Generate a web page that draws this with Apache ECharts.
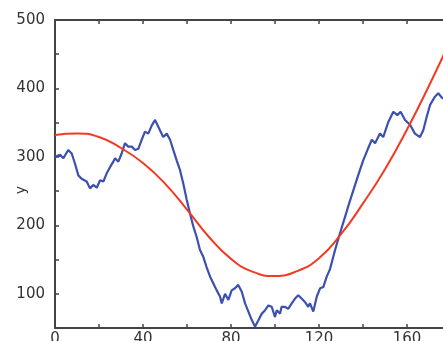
<!DOCTYPE html>
<html>
<head>
<meta charset="utf-8">
<script src="https://cdn.jsdelivr.net/npm/echarts@6/dist/echarts.min.js"></script>
<style>
html,body{margin:0;padding:0;background:#fff;}
#c{width:443px;height:341px;}
</style>
</head>
<body>
<div id="c"></div>
<script>
// Blue noisy series (x, y)
const blueX = [0,2.3,3.8,6,7.6,9.1,10.6,12.1,14.4,15.9,17.4,19,20.5,22,23.5,25,26.5,27.3,28.8,30.3,31.8,33.3,34.9,36.4,37.9,39.4,40.9,42.4,44,45.5,
  46.2,47.7,49.2,50.8,52.3,53.8,55.3,56.8,58.3,59.9,61.4,62.9,64.4,65.9,67.4,68.9,70.5,72,73.5,75,75.8,77.3,78.8,80.3,81.8,83.3,84.9,86.4,87.9,89.4,
  90.9,92.4,94,95.5,97,98.5,100,100.8,102.3,103,104.5,106,107.6,109.1,110.6,112.1,113.6,115.1,115.9,117.4,119,120.5,122,123.5,125,127.3,129.5,131.8,
  133.7,135.6,137.9,140.1,142,144,145.5,147.7,149.2,151.5,153.8,155.6,157.1,159.1,161.4,163.6,165.9,167.4,169,170.5,172.7,174.2,176,178];
const blueY = [300,303,298,310,305,290,273,268,264,254,259,255,266,264,276,285,293,298,293,305,320,315,315,310,312,325,337,334,346,354,
  349,339,329,334,325,310,295,281,261,237,217,198,183,164,154,139,125,115,105,96,86,100,91,105,108,113,103,86,74,62,
  52,61,71,76,83,81,66,76,71,81,81,78,86,93,98,93,88,81,86,74,96,108,110,125,136,164,188,212,
  232,251,274,295,310,325,320,334,329,351,366,361,366,354,347,334,329,339,359,376,388,393,386,384];
// Red fitted curve (x, y)
const redX = [0,10,20,30,40,50,60,70,80,90,100,110,120,130,140,150,160,170,180];
const redY = [332,334,329,313,291,261,223,183,151,132,126,133,152,187,232,282,340,404,472];
// Tick labels
const xLabels = [0,40,80,120,160];
const yLabels = [100,200,300,400,500];

const pairs = (xs, ys) => xs.map((x, i) => [x, ys[i]]);
const font = 'DejaVu Sans, Verdana, sans-serif';
const axisLineStyle = {color: '#444', width: 2};
const tickStyle = {show: true, inside: true, length: 4, lineStyle: {color: '#444', width: 1.5}};

const chart = echarts.init(document.getElementById('c'), null, {renderer: 'canvas'});
chart.setOption({
  animation: false,
  backgroundColor: '#fff',
  grid: {left: 55, top: 20, right: -8, bottom: 13, containLabel: false, outerBoundsMode: 'none'},
  xAxis: [{
    type: 'value', min: 0, max: 180, interval: 20, position: 'bottom',
    axisLine: {show: true, onZero: false, lineStyle: axisLineStyle},
    axisTick: tickStyle,
    splitLine: {show: false},
    axisLabel: {margin: 4, fontSize: 15, color: '#333', fontFamily: font,
      formatter: v => xLabels.includes(v) ? String(v) : ''}
  }, {
    type: 'value', min: 0, max: 180, interval: 20, position: 'top',
    axisLine: {show: true, onZero: false, lineStyle: axisLineStyle},
    axisTick: tickStyle,
    splitLine: {show: false},
    axisLabel: {show: false}
  }],
  yAxis: {
    type: 'value', min: 50, max: 500, interval: 50,
    name: 'y', nameLocation: 'middle', nameGap: 27, nameRotate: 90, nameMoveOverlap: false,
    nameTextStyle: {fontSize: 14, color: '#333', fontFamily: font, padding: [0, 32, 0, 0]},
    axisLine: {show: true, onZero: false, lineStyle: axisLineStyle},
    axisTick: tickStyle,
    splitLine: {show: false},
    axisLabel: {margin: 10, fontSize: 15, color: '#333', fontFamily: font,
      formatter: v => yLabels.includes(v) ? String(v) : ''}
  },
  series: [{
    type: 'line', xAxisIndex: 0, data: pairs(blueX, blueY), showSymbol: false, smooth: false,
    lineStyle: {color: '#3c50b0', width: 2.2}, clip: true
  }, {
    type: 'line', xAxisIndex: 0, data: pairs(redX, redY), showSymbol: false, smooth: true,
    lineStyle: {color: '#f23a22', width: 2}, clip: true
  }]
});
</script>
</body>
</html>
